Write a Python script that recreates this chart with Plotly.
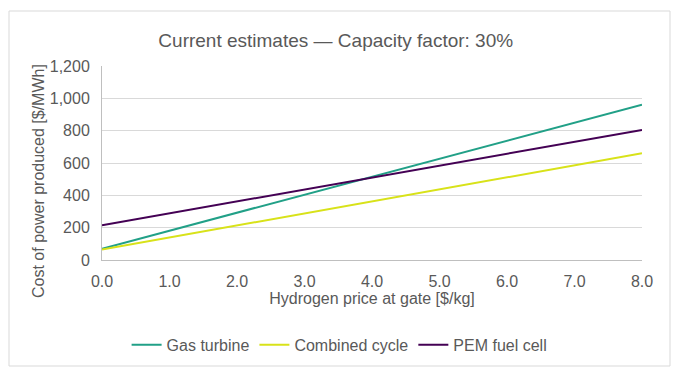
import plotly.graph_objects as go

hydrogen_price = [0, 1, 2, 3, 4, 5, 6, 7, 8]
gas_turbine = [70, 181, 293, 404, 515, 626, 738, 849, 960]
combined_cycle = [65, 139, 214, 288, 363, 437, 511, 586, 660]
pem_fuel_cell = [215, 289, 363, 436, 510, 584, 658, 731, 805]

series = [
    ("Gas turbine", gas_turbine, "#21A087"),
    ("Combined cycle", combined_cycle, "#D8E219"),
    ("PEM fuel cell", pem_fuel_cell, "#440154"),
]

fig = go.Figure()
for name, vals, col in series:
    fig.add_trace(go.Scatter(x=hydrogen_price, y=vals, mode="lines", name=name,
                             line=dict(color=col, width=2)))

font_col = "#595959"
fig.update_layout(
    width=680, height=384,
    margin=dict(l=94, r=46, t=58, b=132),
    paper_bgcolor="white", plot_bgcolor="white",
    font=dict(family="Liberation Sans, Arial, sans-serif", size=16, color=font_col),
    title=dict(text="Current estimates — Capacity factor: 30%", x=0.482, xanchor="center",
               y=1 - 32/384, yanchor="middle", font=dict(size=19, color=font_col)),
    xaxis=dict(range=[0, 8], tickvals=[0, 1, 2, 3, 4, 5, 6, 7, 8], tickformat=".1f",
               showgrid=False, showline=True, linecolor="#BFBFBF", linewidth=1,
               ticks="", zeroline=False, ticklabelstandoff=7,
               title=dict(text="Hydrogen price at gate [$/kg]", standoff=2,
                          font=dict(size=16, color=font_col))),
    yaxis=dict(range=[0, 1200], tickvals=[0, 200, 400, 600, 800, 1000, 1200],
               tickformat=",d", showgrid=True, gridcolor="#D9D9D9", gridwidth=1,
               showline=True, linecolor="#BFBFBF", linewidth=1, ticks="",
               zeroline=False, ticklabelstandoff=8),
    legend=dict(orientation="h", x=0.44, xanchor="center", y=-0.438, yanchor="middle",
                font=dict(size=16, color=font_col), itemwidth=30,
                bgcolor="rgba(0,0,0,0)"),
    annotations=[dict(text="Cost of power produced [$/MWh]", textangle=-90,
                      xref="paper", yref="paper", x=(38-102)/540, y=(260-181)/194,
                      xanchor="center", yanchor="middle", showarrow=False,
                      font=dict(size=16, color=font_col))],
    shapes=[dict(type="rect", xref="paper", yref="paper",
                 x0=(9-102)/540, x1=(670-102)/540,
                 y0=(260-366)/194, y1=(260-11)/194,
                 line=dict(color="#D9D9D9", width=1), fillcolor="rgba(0,0,0,0)",
                 layer="below")],
)

fig.write_html("out.html")
